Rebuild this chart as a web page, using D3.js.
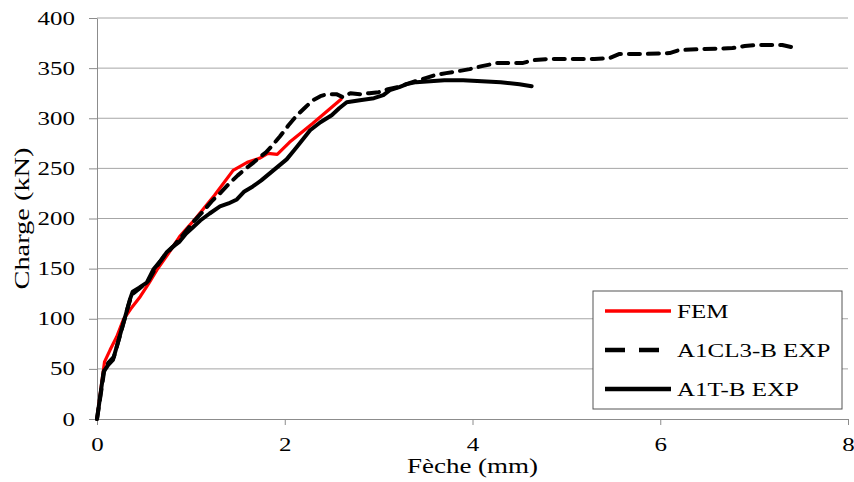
<!DOCTYPE html>
<html>
<head>
<meta charset="utf-8">
<script src="https://cdn.jsdelivr.net/npm/d3@7"></script>
<style>
  body { margin: 0; background: #fff; }
  svg { display: block; }
  text { font-family: "Liberation Serif", "Times New Roman", serif; fill: #000; }
</style>
</head>
<body>
<svg width="854" height="482"></svg>
<script>
// data
let xTicks = [0, 2, 4, 6, 8]
let yTicks = [0, 50, 100, 150, 200, 250, 300, 350, 400]

let femX = [0, 0.03, 0.08, 0.14, 0.21, 0.28, 0.36, 0.46, 0.55, 0.64, 0.76, 0.88, 1.05, 1.25, 1.45, 1.6, 1.73, 1.82, 1.92, 2.05, 2.3, 2.6]
let femY = [0, 22, 57, 69, 82, 99, 110, 122, 135, 149, 165, 182, 200, 223, 248, 256, 260, 265, 264, 276, 295, 319]

let cl3X = [0, 0.04, 0.08, 0.12, 0.18, 0.22, 0.28, 0.33, 0.37, 0.45, 0.55, 0.62, 0.72, 0.82, 0.92, 1.02, 1.12, 1.23, 1.32, 1.41, 1.5, 1.6, 1.67, 1.73, 1.8, 1.86, 1.95, 2.04, 2.13, 2.22, 2.3, 2.38, 2.45, 2.55, 2.62, 2.7, 2.8, 2.9, 3.0, 3.1, 3.2, 3.36, 3.5, 3.6, 3.72, 3.85, 3.97, 4.1, 4.26, 4.4, 4.53, 4.65, 4.79, 5.0, 5.14, 5.3, 5.46, 5.56, 5.8, 6.1, 6.2, 6.45, 6.77, 6.9, 7.02, 7.2, 7.3, 7.45]
let cl3Y = [0, 25, 50, 56, 62, 75, 95, 112, 124, 130, 138, 150, 163, 173, 184, 196, 206, 218, 226, 235, 243, 251, 256, 261, 266, 272, 282, 293, 303, 311, 318, 322, 324, 324, 321, 325, 324, 325, 326, 329, 331, 336, 340, 343, 345, 347, 349, 352, 355, 355, 355, 358, 359, 359, 359, 359, 360, 364, 364, 365, 368, 369, 370, 372, 373, 373, 373, 370]

let a1tX = [0, 0.03, 0.07, 0.12, 0.17, 0.21, 0.27, 0.3, 0.35, 0.38, 0.45, 0.53, 0.6, 0.67, 0.74, 0.81, 0.88, 0.95, 1.02, 1.1, 1.2, 1.31, 1.4, 1.49, 1.57, 1.66, 1.75, 1.84, 1.93, 2.02, 2.1, 2.16, 2.27, 2.38, 2.5, 2.58, 2.66, 2.8, 2.95, 3.05, 3.12, 3.22, 3.3, 3.4, 3.55, 3.7, 3.9, 4.1, 4.3, 4.5, 4.63]
let a1tY = [0, 20, 47, 54, 59, 72, 92, 102, 119, 127, 131, 136, 149, 157, 166, 172, 177, 185, 191, 198, 205, 212, 215, 219, 227, 232, 238, 245, 252, 259, 268, 275, 288, 296, 303, 310, 316, 318, 320, 323, 328, 331, 334, 336, 337, 338, 338, 337, 336, 334, 332]

let seriesNames = ["FEM", "A1CL3-B EXP", "A1T-B EXP"]

var SX = 1.35 // the text in the picture is stretched sideways
var svg = d3.select("svg")
var marge = {top: 18, bottom: 63, left: 97, right: 6}
var width = +svg.attr("width")
var height = +svg.attr("height")

var xScale = d3.scaleLinear().domain([0, 8]).range([marge.left, width - marge.right])
var yScale = d3.scaleLinear().domain([0, 400]).range([height - marge.bottom, marge.top])

// gridlines
svg.append("g").attr("id", "gridlines")
    .selectAll("line")
    .data(yTicks.filter(d => d > 0))
    .join("line")
    .attr("x1", xScale(0))
    .attr("x2", xScale(8))
    .attr("y1", d => yScale(d))
    .attr("y2", d => yScale(d))
    .attr("stroke", "#a6a6a6")
    .attr("stroke-width", 1)

// axes
var yAxis = d3.axisLeft(yScale).tickValues(yTicks).tickSize(8).tickSizeOuter(0)
var gy = svg.append("g").attr("transform", "translate(" + marge.left + ",0)").call(yAxis)
var xAxis = d3.axisBottom(xScale).tickValues(xTicks).tickSize(6).tickSizeOuter(0)
var gx = svg.append("g").attr("transform", "translate(0," + yScale(0) + ")").call(xAxis)

gy.selectAll("path, line").attr("stroke", "#8c8c8c")
gx.selectAll("path, line").attr("stroke", "#8c8c8c")
gy.selectAll("text")
    .attr("x", -22 / SX)
    .attr("dy", "0.33em")
    .attr("transform", "scale(" + SX + ",1)")
    .style("font-size", "18.5px")
    .style("font-family", "Liberation Serif, serif")
gx.selectAll("text")
    .attr("y", 32)
    .attr("dy", 0)
    .attr("transform", "scale(" + SX + ",1)")
    .style("font-size", "18.5px")
    .style("font-family", "Liberation Serif, serif")

// axis titles
svg.append("text")
    .attr("transform", "translate(" + (xScale(0) + xScale(8)) / 2 + ",473) scale(" + SX + ",1)")
    .attr("text-anchor", "middle")
    .style("font-size", "20px")
    .text("Fèche (mm)")
svg.append("text")
    .attr("transform", "translate(29," + (yScale(0) + yScale(400)) / 2 + ") rotate(-90) scale(" + SX + ",1)")
    .attr("text-anchor", "middle")
    .style("font-size", "21px")
    .text("Charge (kN)")

// curves
function pts(xs, ys) { return xs.map((d, i) => [d, ys[i]]) }
var line = d3.line().x(d => xScale(d[0])).y(d => yScale(d[1]))

svg.append("path").datum(pts(femX, femY))
    .attr("fill", "none").attr("stroke", "#ff0000").attr("stroke-width", 3.2)
    .attr("stroke-linejoin", "round").attr("stroke-linecap", "round")
    .attr("d", line)
svg.append("path").datum(pts(cl3X, cl3Y))
    .attr("fill", "none").attr("stroke", "#000").attr("stroke-width", 4)
    .attr("stroke-dasharray", "11,8")
    .attr("stroke-linejoin", "round").attr("stroke-linecap", "round")
    .attr("d", line)
svg.append("path").datum(pts(a1tX, a1tY))
    .attr("fill", "none").attr("stroke", "#000").attr("stroke-width", 4)
    .attr("stroke-linejoin", "round").attr("stroke-linecap", "round")
    .attr("d", line)

// legend
var legend = svg.append("g").attr("transform", "translate(593,291)")
legend.append("rect")
    .attr("x", 0).attr("y", 0).attr("width", 249).attr("height", 118)
    .attr("fill", "#fff").attr("stroke", "#555").attr("stroke-width", 1)
var styles = [
    {color: "#ff0000", w: 3.5, dash: null},
    {color: "#000", w: 4.3, dash: "20,14"},
    {color: "#000", w: 4.3, dash: null}
]
var items = legend.selectAll(".item").data(seriesNames).join("g").attr("class", "item")
    .attr("transform", (d, i) => "translate(0," + (20 + i * 39) + ")")
items.append("line")
    .attr("x1", 12).attr("x2", 78).attr("y1", 0).attr("y2", 0)
    .attr("stroke", (d, i) => styles[i].color)
    .attr("stroke-width", (d, i) => styles[i].w)
    .attr("stroke-dasharray", (d, i) => styles[i].dash)
items.append("text")
    .attr("transform", "translate(84,6.5) scale(" + SX + ",1)")
    .style("font-size", "18.5px")
    .text(d => d)
</script>
</body>
</html>
